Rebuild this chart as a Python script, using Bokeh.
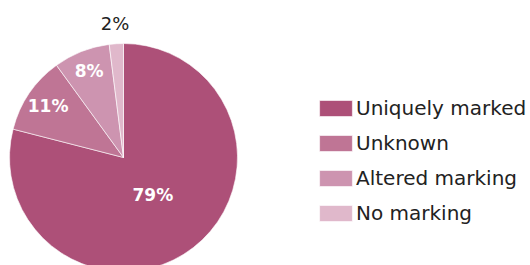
import math
from bokeh.plotting import figure
from bokeh.models import ColumnDataSource, Range1d, Legend, LegendItem
from bokeh.core.properties import value
from bokeh.embed import file_html
from bokeh.resources import INLINE

categories = ["Uniquely marked", "Unknown", "Altered marking", "No marking"]
percent = [79, 11, 8, 2]
colors = ["#ad5078", "#bf7595", "#cd94b0", "#e0b8cb"]

# style: label distance as a fraction of radius, label colour/weight/size
label_r = [0.42, 0.80, 0.82, 1.18]
label_color = ["white", "white", "white", "#222222"]
label_style = ["bold", "bold", "bold", "normal"]
label_size = ["17px", "17px", "17px", "18px"]

W, H = 530, 265
cx, cy, R = 123, 108, 114

total = float(sum(percent))
starts, ends, lx, ly = [], [], [], []
a = math.pi / 2
for v, f in zip(percent, label_r):
    span = 2 * math.pi * v / total
    starts.append(a - span)
    ends.append(a)
    mid = a - span / 2
    lx.append(cx + f * R * math.cos(mid))
    ly.append(cy + f * R * math.sin(mid))
    a -= span

src = ColumnDataSource(dict(
    cat=categories, start=starts, end=ends, color=colors,
    lx=lx, ly=ly, txt=[f"{v}%" for v in percent],
    tcol=label_color, tsty=label_style, tsize=label_size,
))

p = figure(width=W, height=H, output_backend="svg", toolbar_location=None,
           x_range=Range1d(0, W), y_range=Range1d(0, H), min_border=0,
           outline_line_color=None)
p.axis.visible = False
p.grid.visible = False

r = p.wedge(x=cx, y=cy, radius=R, start_angle="start", end_angle="end",
            fill_color="color", line_color="white", line_width=0.6, source=src)

p.text(x="lx", y="ly", text="txt", text_color="tcol", text_font_style="tsty",
       text_font=value("DejaVu Sans"), text_font_size="tsize",
       text_align="center", text_baseline="middle", source=src)

items = [LegendItem(label=c, renderers=[r], index=i) for i, c in enumerate(categories)]
legend = Legend(items=items, location=(315, 40), glyph_width=41, glyph_height=20,
                label_standoff=0, spacing=11, padding=0, margin=0,
                border_line_color=None, background_fill_alpha=0,
                label_text_font="DejaVu Sans", label_text_font_size="20px",
                label_text_color="#222222", label_height=20)
p.add_layout(legend, "center")

open("out.html", "w").write(file_html(p, INLINE))
